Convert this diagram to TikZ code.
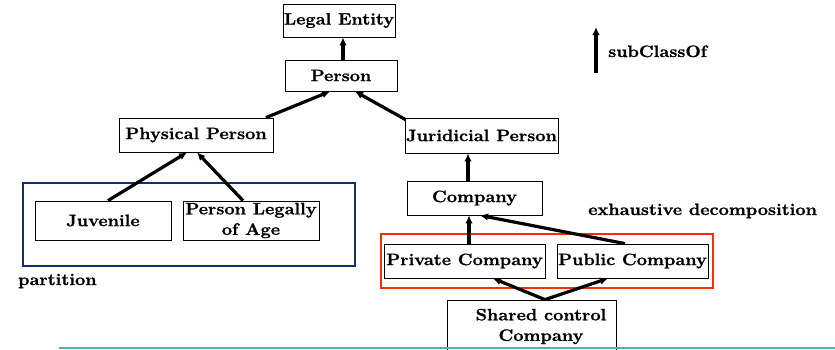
\documentclass[tikz,border=0pt]{standalone}
\usepackage{fontspec}
\setmainfont{Latin Modern Roman}[FakeStretch=1.1, BoldFeatures={FakeBold=1.2}]
\usetikzlibrary{arrows.meta}
\definecolor{navy}{RGB}{20,45,110}
\definecolor{redorange}{RGB}{250,45,10}
\definecolor{tealline}{RGB}{80,180,172}
\begin{document}
\begin{tikzpicture}[x=1pt,y=-1pt,
  txt/.style={font=\fontsize{16.5}{20.5}\selectfont\bfseries},
  box/.style={txt, draw, line width=0.8pt, inner sep=0pt, align=center},
  group/.style={draw, line width=2.4pt, inner sep=0pt},
  sub/.style={line width=3.2pt, -{Latex[length=8pt,width=7.5pt]}},
  lbl/.style={txt, inner sep=0pt}]
\clip (0,0) rectangle (835,349);
% groups
\node[group, draw=navy, minimum width=332pt, minimum height=83pt] (blue) at (189,224.5) {};
\node[group, draw=redorange, minimum width=332pt, minimum height=54pt] (red) at (547,261) {};
% boxes
\node[box, minimum width=112pt, minimum height=33pt] (legal) at (339,20.5) {Legal Entity};
\node[box, minimum width=112pt, minimum height=31pt] (person) at (341,75.5) {Person};
\node[box, minimum width=154pt, minimum height=34pt] (phys) at (196,135) {Physical Person};
\node[box, minimum width=153pt, minimum height=35pt] (jur) at (481.5,135.5) {Juridicial Person};
\node[box, minimum width=135pt, minimum height=34pt] (company) at (474.5,198) {Company};
\node[box, minimum width=136pt, minimum height=39pt] (juv) at (103,220.5) {Juvenile};
\node[box, minimum width=136pt, minimum height=39pt] (age) at (251,220.5) {Person Legally\\of Age};
\node[box, minimum width=161pt, minimum height=34pt] (priv) at (464.5,261) {Private Company};
\node[box, minimum width=151pt, minimum height=34pt] (pub) at (632.5,261) {Public Company};
\node[box, minimum width=169pt, minimum height=52pt] (shared) at (532,326) {};
\node[lbl, align=center] (sharedtxt) at (541,326.5) {Shared control\\Company};
% connectors
\draw[sub] ([xshift=2pt]person.north) -- ([xshift=4pt]legal.south);
\draw[sub] ([xshift=70pt]phys.north) -- ([xshift=-11pt]person.south);
\draw[sub] ([xshift=-76pt,yshift=-2pt]jur.north) -- ([xshift=14pt]person.south);
\draw[sub] ([xshift=5pt]juv.north) -- ([xshift=-9pt]phys.south);
\draw[sub] ([xshift=-8pt]age.north) -- ([xshift=1pt]phys.south);
\draw[sub] ([xshift=-6.5pt]company.north) -- ([xshift=-13.5pt]jur.south);
\draw[sub] ([xshift=4.5pt]priv.north) -- ([xshift=-5.5pt]company.south);
\draw[sub] ([xshift=-7.5pt]pub.north) -- ([xshift=5.5pt]company.south);
\draw[sub] ([xshift=13pt]shared.north) -- ([xshift=28.5pt]priv.south);
\draw[sub] ([xshift=13pt]shared.north) -- ([xshift=-24.5pt]pub.south);
% legend
\coordinate (lgA) at (596,73);
\coordinate (lgB) at (596,27);
\draw[sub] (lgA) -- (lgB);
\node[lbl, anchor=base west] (subcl) at (608,57) {subClassOf};
\node[lbl, anchor=base west] (exh) at (588,215) {exhaustive decomposition};
\node[lbl, anchor=base west] (part) at (18,285) {partition};
% bottom rule
\coordinate (ruleA) at (59,348);
\coordinate (ruleB) at (835,348);
\draw[tealline, line width=1.3pt] (ruleA) -- (ruleB);
\end{tikzpicture}
\end{document}
